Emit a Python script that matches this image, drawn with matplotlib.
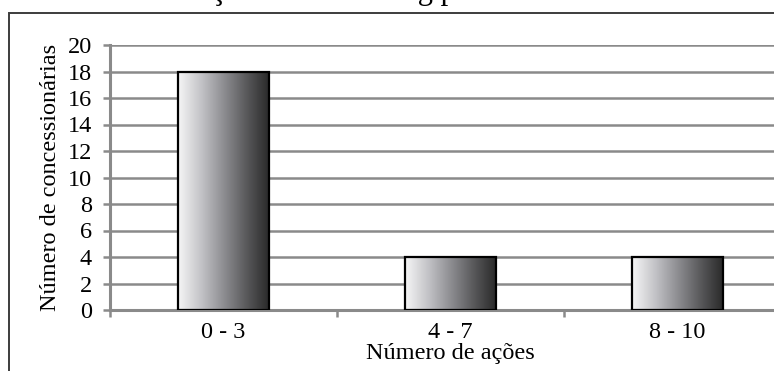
import matplotlib
matplotlib.use("Agg")
import matplotlib.pyplot as plt
import numpy as np
from matplotlib.colors import LinearSegmentedColormap
from matplotlib.patches import Rectangle

# faixas de número de ações e quantidade de concessionárias em cada faixa
faixas = ["0 - 3", "4 - 7", "8 - 10"]
concessionarias = [18, 4, 4]
yticks = list(range(0, 21, 2))

plt.rcParams["font.family"] = ["Liberation Serif", "DejaVu Serif"]

W, H = 774, 371
fig = plt.figure(figsize=(W / 100, H / 100), dpi=100)
ax = fig.add_axes([110 / W, 61 / H, 681 / W, 265 / H])

grid_c = "#8a8a8a"
ax.set_xlim(-0.5, 2.5)
ax.set_ylim(0, 20)
ax.set_yticks(yticks)
ax.yaxis.grid(True, color=grid_c, lw=1.8)
ax.set_axisbelow(True)

# barras com degradê horizontal (claro à esquerda, escuro à direita)
cmap = LinearSegmentedColormap.from_list(
    "barra", ["#f6f6f6", "#c4c4c8", "#8e8e92", "#5a5a5c", "#2a2a2a"])
grad = np.linspace(0, 1, 256).reshape(1, -1)
largura = 0.4
x = np.arange(len(faixas))
bars = ax.bar(x, concessionarias, width=largura, facecolor="none",
              edgecolor="black", lw=1.6, zorder=3)
for b in bars:
    x0, y0 = b.get_x(), b.get_y()
    im = ax.imshow(grad, cmap=cmap, aspect="auto", zorder=2,
                   extent=(x0, x0 + b.get_width(), y0, y0 + b.get_height()))
    im.set_clip_path(b)
ax.set_xlim(-0.5, 2.5)
ax.set_ylim(0, 20)

for s in ["top", "right"]:
    ax.spines[s].set_visible(False)
for s in ["left", "bottom"]:
    ax.spines[s].set_color(grid_c)
    ax.spines[s].set_linewidth(2.2)

fs = 17.5
ax.set_xticks(x)
ax.set_xticklabels(faixas)
ax.set_xticks([-0.5, 0.5, 1.5, 2.5], minor=True)
ax.tick_params(axis="x", which="major", length=0, pad=9, labelsize=fs)
ax.tick_params(axis="x", which="minor", length=5, width=1.8, color=grid_c)
ax.tick_params(axis="y", length=5, width=1.8, color=grid_c, pad=8,
               labelsize=fs)

ax.set_xlabel("Número de ações", fontsize=fs, labelpad=0)
ax.set_ylabel("Número de concessionárias", fontsize=fs)
ax.yaxis.set_label_coords(-0.072, 0.5)

# moldura externa do gráfico
fig.patches.append(Rectangle((8.5 / W, -0.1), 1.2, 1.1 - 12.5 / H,
                             transform=fig.transFigure, fill=False,
                             edgecolor="#3c3c3c", lw=1.4))

# título acima da moldura
fig.text(361 / W, 1 + 1.5 / H, "Número de ações de marketing por concessionária",
         ha="center", va="baseline", fontsize=22)

fig.savefig("out.png", dpi=100)
